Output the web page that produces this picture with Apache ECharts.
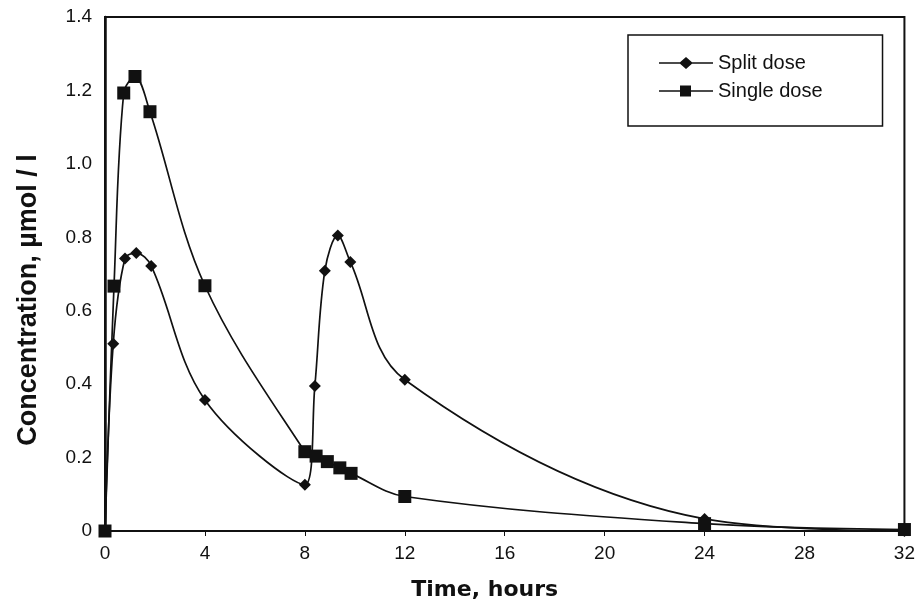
<!DOCTYPE html>
<html>
<head>
<meta charset="utf-8">
<script src="https://cdn.jsdelivr.net/npm/echarts@6/dist/echarts.min.js"></script>
<style>
  html, body { margin: 0; padding: 0; background: #fff; }
  #chart { width: 918px; height: 606px; }
</style>
</head>
<body>
<div id="chart"></div>
<script>
// 时间 (hours) 和浓度 (µmol/l)
var splitTime = [0, 0.33, 0.8, 1.25, 1.85, 4, 8, 8.4, 8.8, 9.32, 9.82, 12, 24, 32];
var splitConc = [0, 0.51, 0.742, 0.757, 0.722, 0.357, 0.126, 0.395, 0.709, 0.805, 0.733, 0.412, 0.033, 0];
var singleTime = [0, 0.36, 0.75, 1.2, 1.8, 4, 8, 8.45, 8.9, 9.4, 9.85, 12, 24, 32];
var singleConc = [0, 0.667, 1.193, 1.238, 1.142, 0.668, 0.216, 0.204, 0.189, 0.172, 0.157, 0.094, 0.02, 0.004];

function pairs(xs, ys) {
  return xs.map(function (x, i) { return [x, ys[i]]; });
}

var font = 'Liberation Sans, Arial, sans-serif';
// 图例图标：线 + 标记
var iconDiamond = 'path://M0,5.3L21,5.3L27,0L33,5.3L54,5.3L54,6.7L33,6.7L27,12L21,6.7L0,6.7Z';
var iconSquare = 'path://M0,5.3L21,5.3L21,0.5L32,0.5L32,5.3L54,5.3L54,6.7L32,6.7L32,11.5L21,11.5L21,6.7L0,6.7Z';

var myChart = echarts.init(document.getElementById('chart'));
myChart.setOption({
  animation: false,
  backgroundColor: '#fff',
  grid: {
    left: 105, right: 12, top: 17, bottom: 70,
    show: true, borderColor: '#111', borderWidth: 2, backgroundColor: 'transparent'
  },
  legend: {
    left: 628, top: 35,
    orient: 'vertical',
    padding: [18, 60, 25, 31],
    itemGap: 8,
    itemWidth: 54, itemHeight: 12,
    borderColor: '#111', borderWidth: 1.5,
    textStyle: { fontFamily: font, fontSize: 20, color: '#111' },
    data: [
      { name: 'Split dose', icon: iconDiamond },
      { name: 'Single dose', icon: iconSquare }
    ]
  },
  xAxis: {
    type: 'value', min: 0, max: 32, interval: 4,
    name: 'Time, hours', nameLocation: 'middle', nameGap: 48,
    nameTextStyle: {
      fontFamily: 'DejaVu Sans, ' + font, fontSize: 22, fontWeight: 'bold', color: '#111',
      padding: [0, 40, 0, 0]
    },
    axisLine: { lineStyle: { color: '#111', width: 2 } },
    axisTick: { show: true, length: 5, lineStyle: { color: '#111' } },
    axisLabel: { fontFamily: font, fontSize: 19, color: '#111', margin: 13 },
    splitLine: { show: false }
  },
  yAxis: {
    type: 'value', min: 0, max: 1.4, interval: 0.2,
    name: 'Concentration, µmol / l', nameLocation: 'middle', nameGap: 63,
    nameTextStyle: {
      fontFamily: font, fontSize: 27, fontWeight: 'bold', color: '#111',
      padding: [0, 52, 0, 0]
    },
    axisLine: { lineStyle: { color: '#111', width: 2.5 } },
    axisTick: { show: false },
    axisLabel: {
      fontFamily: font, fontSize: 19, color: '#111', margin: 13,
      formatter: function (v) { return v === 0 ? '0' : v.toFixed(1); }
    },
    splitLine: { show: false }
  },
  series: [
    {
      name: 'Split dose', type: 'line', smooth: 0.35,
      data: pairs(splitTime, splitConc),
      symbol: 'diamond', symbolSize: 12,
      itemStyle: { color: '#111' },
      lineStyle: { color: '#111', width: 1.7 }
    },
    {
      name: 'Single dose', type: 'line', smooth: 0.35,
      data: pairs(singleTime, singleConc),
      symbol: 'rect', symbolSize: 13,
      itemStyle: { color: '#111' },
      lineStyle: { color: '#111', width: 1.7 }
    }
  ]
});
</script>
</body>
</html>
